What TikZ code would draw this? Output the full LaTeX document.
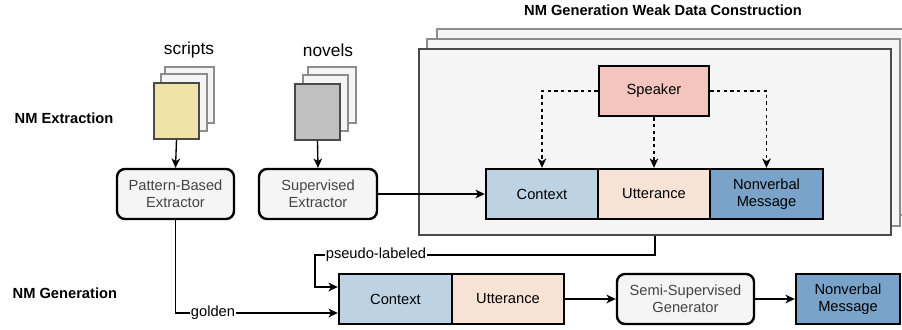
\documentclass[tikz,border=0pt]{standalone}
\usepackage{fontspec}
\setmainfont{Liberation Sans}
\usetikzlibrary{arrows.meta,calc}
\definecolor{panelfill}{HTML}{F5F5F5}
\definecolor{pageline}{HTML}{8C8C8C}
\definecolor{panelline}{HTML}{4A4A4A}
\definecolor{spkfill}{HTML}{F3C5BD}
\definecolor{ctxfill}{HTML}{BDD3E4}
\definecolor{uttfill}{HTML}{F7E2D6}
\definecolor{nmfill}{HTML}{7AA3C9}
\definecolor{scriptfill}{HTML}{F1E2A8}
\definecolor{novelfill}{HTML}{C0C0C0}
\definecolor{graytext}{HTML}{444444}
\tikzset{
  lbl/.style={font=\fontsize{11}{13}\selectfont, align=center},
  boldlbl/.style={font=\fontsize{11}{13}\selectfont\bfseries},
  databox/.style={draw=black, line width=1.8pt, minimum height=37.5pt, inner sep=0pt, lbl},
  procbox/.style={draw=black, line width=1.8pt, rounded corners=6pt, fill=panelfill, minimum height=37.5pt, inner sep=0pt, lbl, text=graytext},
  backpage/.style={draw=pageline, line width=0.9pt, fill=panelfill},
  docfront/.style={draw=panelline, line width=1.2pt, minimum width=33.75pt, minimum height=42pt, inner sep=0pt},
  conn/.style={draw=black, line width=1pt, -{Stealth[length=7pt,width=6.5pt,inset=2pt]}},
  dashconn/.style={draw=black, line width=1pt, dash pattern=on 2.5pt off 2.5pt, -{Stealth[length=7pt,width=6.5pt,inset=2pt]}},
  onlinelbl/.style={fill=white, inner sep=1pt, lbl}
}
\begin{document}
\begin{tikzpicture}[x=0.75pt,y=-0.75pt]
\useasboundingbox (0,0) rectangle (902,329);
\clip (0,0) rectangle (902,329);
\fill[white] (0,0) rectangle (902,329);

% side labels and title
\node[boldlbl, anchor=west] (lext) at (10,118) {NM Extraction};
\node[boldlbl, anchor=west] (lgen) at (8,293) {NM Generation};
\node[boldlbl] (title) at (663,10) {NM Generation Weak Data Construction};

% stacked panel
\draw[backpage] (437,29) rectangle (912,215);
\draw[backpage] (427,39) rectangle (900,226);
\node[draw=panelline, line width=1pt, fill=panelfill, minimum width=354pt, minimum height=139.5pt, inner sep=0pt] (panel) at (655,142) {};

% documents
\draw[backpage] (165,67) rectangle (214,123);
\draw[backpage] (161,74) rectangle (207,131);
\node[docfront, fill=scriptfill] (sdoc) at (176.5,111) {};
\node[font=\fontsize{13}{15}\selectfont] (slbl) at (189,50) {scripts};

\draw[backpage] (308,67) rectangle (356,123);
\draw[backpage] (303,75) rectangle (348,131);
\node[docfront, fill=novelfill] (ndoc) at (317.5,112) {};
\node[font=\fontsize{13}{15}\selectfont] (nlbl) at (328,50) {novels};

% extractors
\node[procbox, minimum width=87.75pt] (pat) at (175.5,194) {Pattern-Based\\Extractor};
\node[procbox, minimum width=88.5pt] (sup) at (318,194) {Supervised\\Extractor};

% panel contents
\node[databox, fill=spkfill, minimum width=82.5pt] (spk) at (654,91) {Speaker};
\node[databox, fill=ctxfill, minimum width=84pt] (tctx) at (542,194) {Context};
\node[databox, fill=uttfill, minimum width=84pt] (tutt) at (654,194) {Utterance};
\node[databox, fill=nmfill, minimum width=84.75pt] (tnm) at (766.5,194) {Nonverbal\\Message};

% lower row
\node[databox, fill=ctxfill, minimum width=84.75pt] (lctx) at (395.5,299) {Context};
\node[databox, fill=uttfill, minimum width=84pt] (lutt) at (508,299) {Utterance};
\node[procbox, minimum width=102.75pt] (gen) at (685.5,299) {Semi-Supervised\\Generator};
\node[databox, fill=nmfill, minimum width=78pt] (lnm) at (848,299) {Nonverbal\\Message};

% connectors
\draw[conn] (sdoc.south) -- (pat.north);
\draw[conn] (ndoc.south) -- (sup.north);
\draw[conn] (sup.east) -- (tctx.west);

\draw[dashconn] (spk.west) -| (tctx.north);
\draw[dashconn] (spk.south) -- (tutt.north);
\draw[dashconn] (spk.east) -| (tnm.north);

\coordinate (pin) at ($(lctx.west)+(0,-12)$);
\coordinate (gin) at ($(lctx.west)+(0,14)$);
\coordinate (pturn) at (315,255);

\draw[conn] (panel.south) |- (pturn) -- (pturn |- pin) -- (pin);
\node[onlinelbl] (plbl) at (376,255) {pseudo-labeled};

\draw[conn] (pat.south) |- (gin);
\node[onlinelbl] (glbl) at (213,313) {golden};

\draw[conn] (lutt.east) -- (gen.west);
\draw[conn] (gen.east) -- (lnm.west);
\end{tikzpicture}
\end{document}
